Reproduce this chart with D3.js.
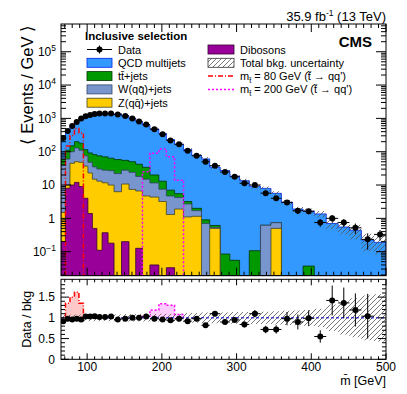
<!DOCTYPE html>
<html>
<head>
<meta charset="utf-8">
<script src="https://cdn.jsdelivr.net/npm/d3@7"></script>
<style>
  body { margin: 0; background: #fff; }
  svg { display: block; font-family: "Liberation Sans", Arial, Helvetica, sans-serif; }
</style>
</head>
<body>
<svg id="chart" width="407" height="394"></svg>
<script>
// bin edges of the mbar histogram (GeV)
const binEdges = [65, 71, 77, 83, 89, 95, 101, 107, 113, 120, 128, 136, 146, 156, 165, 174, 184, 196, 206, 217,
  229, 240, 253, 264, 278, 291, 304, 317, 332, 346, 360, 375, 389, 404, 420, 436, 451, 467, 484, 500];

// backgrounds, events / GeV per bin
const qcd = [219, 313, 465, 596, 860, 1002, 1131, 1216, 1298, 1312, 1295, 1307, 1149, 950, 768, 602, 460, 337, 225, 163,
  113, 76, 60, 34, 27, 18.5, 13.5, 9.0, 7.3, 4.9, 3.06, 1.9, 1.61, 1.36, 0.70, 0.55, 0.44, 0.225, 0.19];
const ttbar = [20, 50, 50, 70, 70, 40, 44, 47, 45, 42, 37, 36, 27, 26, 24, 19, 8.5, 5.5, 2.3, 1.3,
  0.5, 0.3, 0.2, 0.08, 0.085, 0.055, 0, 0.107, 0, 0, 0, 0, 0.037, 0, 0, 0, 0, 0, 0];
const wjets = [38, 50, 55, 80, 62, 38, 25, 20, 17, 16.3, 17, 15.7, 17.3, 16.6, 11.4, 10.3, 7.2, 4.3, 3.4, 2.3,
  1.6, 0.55, 0.7, 0.03, 0, 0, 0, 0, 0.62, 0.24, 0, 0, 0, 0, 0, 0, 0, 0, 0];
const zjets = [1.3, 2, 35, 38, 39, 33, 21.6, 14.5, 12.9, 11.3, 9.8, 6.3, 10.5, 7.4, 6.5, 4.7, 4.3, 3.2, 1.27, 1.9,
  1.1, 1.15, 0, 0.5, 0, 0, 0, 0, 0, 0.5, 0, 0, 0, 0, 0, 0, 0, 0, 0];
const dibosons = [0.2, 8, 10, 12, 9, 4, 1.4, 0.5, 0.11, 0.37, 0.18, 0, 0.2, 0, 0.126, 0, 0.04, 0, 0.033, 0,
  0, 0, 0, 0, 0, 0, 0, 0, 0, 0, 0, 0, 0, 0, 0, 0, 0, 0, 0];
// relative total background uncertainty
const bkgUnc = [0.08, 0.08, 0.08, 0.08, 0.08, 0.08, 0.08, 0.08, 0.08, 0.08, 0.08, 0.08, 0.09, 0.09, 0.09, 0.09, 0.09, 0.1, 0.1, 0.1,
  0.12, 0.12, 0.13, 0.13, 0.13, 0.14, 0.14, 0.15, 0.15, 0.16, 0.17, 0.18, 0.19, 0.22, 0.32, 0.4, 0.47, 0.54, 0.57];

// data, events / GeV
const data = [257, 415, 590, 780, 1000, 1150, 1260, 1350, 1400, 1410, 1400, 1310, 1180, 1000, 810, 655, 470, 335, 218, 166,
  107, 76, 50, 38, 24.5, 17.7, 11.3, 10, 5.7, 4.0, 3.0, 1.70, 1.63, 0.75, 1.0, 0.75, 0.52, 0.234, 0.33];
const dataErr = [8, 10, 12, 16, 15, 17, 19, 20, 21, 21, 21, 20, 18, 15, 12, 13, 9.4, 6.7, 5.5, 4.2,
  3.2, 2.7, 2.5, 1.7, 1.35, 1.1, 0.94, 0.82, 0.71, 0.56, 0.49, 0.34, 0.31, 0.2, 0.25, 0.2, 0.18, 0.12, 0.115];
// data / bkg as shown in the lower panel
const ratio = [0.92, 0.98, 0.96, 0.98, 0.96, 1.03, 1.03, 1.04, 1.02, 1.02, 1.03, 0.96, 0.98, 1.0, 1.0, 1.03, 0.98, 0.96, 0.94, 0.98,
  0.92, 0.98, 0.82, 1.10, 0.90, 0.95, 0.84, 1.10, 0.72, 0.72, 0.98, 0.90, 0.99, 0.55, 1.42, 1.36, 1.19, 1.04, null];
const ratioErr = [0.01, 0.01, 0.01, 0.01, 0.01, 0.01, 0.01, 0.01, 0.01, 0.01, 0.01, 0.015, 0.015, 0.015, 0.015, 0.02, 0.02, 0.02, 0.025, 0.025,
  0.03, 0.035, 0.04, 0.05, 0.05, 0.06, 0.07, 0.09, 0.09, 0.1, 0.16, 0.18, 0.19, 0.15, 0.36, 0.37, 0.4, 0.54, null];

// signals, events / GeV
const sig80 = [0, 148, 307, 494, 364, 0, 0, 0, 0, 0, 0, 0, 0, 0, 0, 0, 0, 0, 0, 0,
  0, 0, 0, 0, 0, 0, 0, 0, 0, 0, 0, 0, 0, 0, 0, 0, 0, 0, 0];
const sig200 = [0, 0, 0, 0, 0, 0, 0, 0, 0, 0, 0, 0, 0, 0, 0, 25, 90, 120, 70, 14,
  0, 0, 0, 0, 0, 0, 0, 0, 0, 0, 0, 0, 0, 0, 0, 0, 0, 0, 0];

const xTicks = [100, 200, 300, 400, 500];
const yTicksRatio = [0, 0.5, 1, 1.5];
const yDecades = [-1, 0, 1, 2, 3, 4, 5];

const svg = d3.select('#chart');
const L = 61, R = 386;
const upTop = 24, upBot = 275.7, loTop = 279.3, loBot = 359.3;

const x = d3.scaleLinear().domain([65, 500]).range([L, R]);
const y = d3.scaleLog().domain([0.019, 6.8e5]).range([upBot, upTop]).clamp(true);
const yr = d3.scaleLinear().domain([0, 1.93]).range([loBot, loTop]);
const floorV = 1e-6;

const bins = binEdges.slice(0, -1).map((e, i) => ({x0: e, x1: binEdges[i + 1], xc: (e + binEdges[i + 1]) / 2}));

const defs = svg.append('defs');
defs.append('clipPath').attr('id', 'clipUp').append('rect')
  .attr('x', L).attr('y', upTop).attr('width', R - L).attr('height', upBot - upTop);
defs.append('clipPath').attr('id', 'clipLo').append('rect')
  .attr('x', L).attr('y', loTop).attr('width', R - L).attr('height', loBot - loTop);
const hatch = defs.append('pattern').attr('id', 'hatch')
  .attr('patternUnits', 'userSpaceOnUse').attr('width', 5).attr('height', 5);
hatch.append('path').attr('d', 'M-1,1 L1,-1 M0,5 L5,0 M4,6 L6,4')
  .attr('stroke', '#555').attr('stroke-width', 0.8);

const keys = ['dibosons', 'zjets', 'wjets', 'ttbar', 'qcd'];
const fills = {qcd: '#3399ff', ttbar: '#009900', wjets: '#7896cd', zjets: '#ffcc00', dibosons: '#990099'};
const lines = {qcd: '#0022ee', ttbar: '#003300', wjets: '#334466', zjets: '#444422', dibosons: '#330033'};

const rows = bins.map((b, i) => ({dibosons: dibosons[i], zjets: zjets[i], wjets: wjets[i], ttbar: ttbar[i], qcd: qcd[i]}));
const layers = d3.stack().keys(keys)(rows);
const total = layers[layers.length - 1].map(d => d[1]);

function steps(vals) {
  return vals.flatMap((v, i) => [[bins[i].x0, v], [bins[i].x1, v]]);
}
function sigSteps(sig) {
  const idx = sig.map((v, i) => v > 0 ? i : -1).filter(i => i >= 0);
  const i0 = idx[0], i1 = idx[idx.length - 1];
  const pts = [[bins[i0].x0, null]];
  for (let i = i0; i <= i1; i++) { pts.push([bins[i].x0, sig[i], i]); pts.push([bins[i].x1, sig[i], i]); }
  pts.push([bins[i1].x1, null]);
  return pts;
}

const stepArea = d3.area().x(d => x(d[0])).y0(y(floorV)).y1(d => y(Math.max(d[1], floorV)));

// ---------------- upper pad ----------------
const up = svg.append('g').attr('clip-path', 'url(#clipUp)');

layers.slice().reverse().forEach(layer => {
  up.append('path')
    .attr('d', stepArea(steps(layer.map(d => d[1]))))
    .attr('fill', fills[layer.key])
    .attr('stroke', lines[layer.key])
    .attr('stroke-width', 0.8);
});

up.append('path')
  .attr('d', d3.area().x(d => x(d[0]))
    .y0(d => y(d[1] * (1 - d[2]))).y1(d => y(d[1] * (1 + d[2])))(
      bins.flatMap((b, i) => [[b.x0, total[i], bkgUnc[i]], [b.x1, total[i], bkgUnc[i]]])))
  .attr('fill', 'url(#hatch)');

const sigLine = d3.line().x(d => x(d[0])).y(d => y(d[1] == null ? floorV : Math.max(d[1], floorV)));
up.append('path').attr('d', sigLine(sigSteps(sig80)))
  .attr('fill', 'none').attr('stroke', '#ff0000').attr('stroke-width', 1.5).attr('stroke-dasharray', '5,2,1,2');
up.append('path').attr('d', sigLine(sigSteps(sig200)))
  .attr('fill', 'none').attr('stroke', '#ff00ff').attr('stroke-width', 1.5).attr('stroke-dasharray', '2,2');

const pts = bins.map((b, i) => ({...b, v: data[i], e: dataErr[i], r: ratio[i], re: ratioErr[i]}));
const dUp = up.append('g');
dUp.selectAll('line.h').data(pts).join('line').attr('class', 'h')
  .attr('x1', d => x(d.x0)).attr('x2', d => x(d.x1))
  .attr('y1', d => y(d.v)).attr('y2', d => y(d.v))
  .attr('stroke', '#000').attr('stroke-width', 1);
dUp.selectAll('line.v').data(pts).join('line').attr('class', 'v')
  .attr('x1', d => x(d.xc)).attr('x2', d => x(d.xc))
  .attr('y1', d => y(d.v - d.e)).attr('y2', d => y(d.v + d.e))
  .attr('stroke', '#000').attr('stroke-width', 1);
dUp.selectAll('circle').data(pts).join('circle')
  .attr('cx', d => x(d.xc)).attr('cy', d => y(d.v)).attr('r', 3).attr('fill', '#000');

// ---------------- ratio pad ----------------
const lo = svg.append('g').attr('clip-path', 'url(#clipLo)');

function sigRatio(sig) {
  return sigSteps(sig).map(p => [p[0], p[1] == null ? 1 : (total[p[2]] + p[1]) / total[p[2]]]);
}
const rArea = d3.area().x(d => x(d[0])).y0(yr(1)).y1(d => yr(d[1]));
const rLine = d3.line().x(d => x(d[0])).y(d => yr(d[1]));
lo.append('path').attr('d', rArea(sigRatio(sig80))).attr('fill', '#ffc8c8');
lo.append('path').attr('d', rLine(sigRatio(sig80)))
  .attr('fill', 'none').attr('stroke', '#ff0000').attr('stroke-width', 1.5).attr('stroke-dasharray', '5,2,1,2');
lo.append('path').attr('d', rArea(sigRatio(sig200))).attr('fill', '#ffccff');
lo.append('path').attr('d', rLine(sigRatio(sig200)))
  .attr('fill', 'none').attr('stroke', '#ff00ff').attr('stroke-width', 1.5).attr('stroke-dasharray', '2,2');

lo.append('path')
  .attr('d', d3.area().x(d => x(d[0])).y0(d => yr(1 - d[1])).y1(d => yr(1 + d[1]))(
    bins.flatMap((b, i) => [[b.x0, bkgUnc[i]], [b.x1, bkgUnc[i]]])))
  .attr('fill', 'url(#hatch)');

lo.append('line').attr('x1', L).attr('x2', R).attr('y1', yr(1)).attr('y2', yr(1))
  .attr('stroke', '#0000cc').attr('stroke-width', 1).attr('stroke-dasharray', '3,2');

const rPts = pts.filter(d => d.r != null);
const dLo = lo.append('g');
dLo.selectAll('line.h').data(rPts).join('line').attr('class', 'h')
  .attr('x1', d => x(d.x0)).attr('x2', d => x(d.x1))
  .attr('y1', d => yr(d.r)).attr('y2', d => yr(d.r))
  .attr('stroke', '#000');
dLo.selectAll('line.v').data(rPts).join('line').attr('class', 'v')
  .attr('x1', d => x(d.xc)).attr('x2', d => x(d.xc))
  .attr('y1', d => yr(d.r - d.re)).attr('y2', d => yr(d.r + d.re))
  .attr('stroke', '#000');
dLo.selectAll('circle').data(rPts).join('circle')
  .attr('cx', d => x(d.xc)).attr('cy', d => yr(d.r)).attr('r', 3).attr('fill', '#000');

// ---------------- frames and ticks ----------------
const ax = svg.append('g').attr('stroke', '#000').attr('stroke-width', 1);
ax.append('rect').attr('x', L).attr('y', upTop).attr('width', R - L).attr('height', upBot - upTop).attr('fill', 'none');
ax.append('rect').attr('x', L).attr('y', loTop).attr('width', R - L).attr('height', loBot - loTop).attr('fill', 'none');

function xTickMarks(top, bot, big, small) {
  d3.range(70, 501, 10).forEach(v => {
    const len = xTicks.includes(v) ? big : small;
    const px = x(v);
    ax.append('line').attr('x1', px).attr('x2', px).attr('y1', bot).attr('y2', bot - len);
    ax.append('line').attr('x1', px).attr('x2', px).attr('y1', top).attr('y2', top + len);
  });
}
xTickMarks(upTop, upBot, 8, 4);
xTickMarks(loTop, loBot, 6, 3);

function yTickMark(py, len) {
  ax.append('line').attr('x1', L).attr('x2', L + len).attr('y1', py).attr('y2', py);
  ax.append('line').attr('x1', R).attr('x2', R - len).attr('y1', py).attr('y2', py);
}
d3.range(-2, 6).forEach(k => {
  for (let m = 1; m <= 9; m++) {
    const v = m * Math.pow(10, k);
    if (v < y.domain()[0] || v > y.domain()[1]) continue;
    yTickMark(y(v), m === 1 ? 10 : 5);
  }
});
d3.range(0, 19).forEach(k => yTickMark(yr(k / 10), k % 5 === 0 ? 8 : 4));

// tick labels
const lab = svg.append('g').attr('font-size', 12).attr('fill', '#000');
lab.selectAll('text.xl').data(xTicks).join('text').attr('class', 'xl')
  .attr('x', d => x(d)).attr('y', 371).attr('text-anchor', 'middle').text(d => d);
lab.selectAll('text.rl').data(yTicksRatio).join('text').attr('class', 'rl')
  .attr('x', 55).attr('y', d => yr(d) + 4.3).attr('text-anchor', 'end').text(d => d);
yDecades.forEach(k => {
  const t = lab.append('text').attr('y', y(Math.pow(10, k)) + 4.3).attr('text-anchor', 'end');
  if (k === 0) { t.attr('x', 55).text('1'); return; }
  if (k === 1) { t.attr('x', 55).text('10'); return; }
  t.attr('x', 56);
  t.append('tspan').text('10');
  t.append('tspan').attr('font-size', 8.5).attr('dy', -5).text(k < 0 ? '\u2212' + (-k) : k);
});

// axis titles
svg.append('text').attr('transform', `translate(33,${upTop + 1}) rotate(-90)`)
  .attr('text-anchor', 'end').attr('font-size', 16.5).text('\u27e8 Events / GeV \u27e9');
svg.append('text').attr('transform', `translate(31,${(loTop + loBot) / 2}) rotate(-90)`)
  .attr('text-anchor', 'middle').attr('font-size', 12.5).text('Data / bkg');
svg.append('text').attr('x', R).attr('y', 385).attr('text-anchor', 'end').attr('font-size', 12.5)
  .text('m\u0304 [GeV]');

// header
const hdr = svg.append('text').attr('x', R).attr('y', 20.5).attr('text-anchor', 'end').attr('font-size', 13);
hdr.append('tspan').text('35.9 fb');
hdr.append('tspan').attr('font-size', 8.5).attr('dy', -5).text('-1');
hdr.append('tspan').attr('dy', 5).text(' (13 TeV)');
svg.append('text').attr('x', 372).attr('y', 47).attr('text-anchor', 'end')
  .attr('font-size', 15).attr('font-weight', 'bold').text('CMS');
svg.append('text').attr('x', 85).attr('y', 39.5).attr('font-size', 11.5).attr('font-weight', 'bold')
  .text('Inclusive selection');

// ---------------- legend ----------------
const leg = svg.append('g').attr('font-size', 11);
const col1 = [
  {label: 'Data', type: 'data'},
  {label: 'QCD multijets', key: 'qcd'},
  {label: 'tt\u0304+jets', key: 'ttbar'},
  {label: 'W(qq\u0304)+jets', key: 'wjets'},
  {label: 'Z(qq\u0304)+jets', key: 'zjets'}
];
const rowY = [49.5, 62.8, 76.1, 89.4, 102.7];
col1.forEach((e, i) => {
  const cy = rowY[i];
  if (e.type === 'data') {
    leg.append('line').attr('x1', 87).attr('x2', 112).attr('y1', cy).attr('y2', cy).attr('stroke', '#000');
    leg.append('line').attr('x1', 99.5).attr('x2', 99.5).attr('y1', cy - 4).attr('y2', cy + 4).attr('stroke', '#000');
    leg.append('circle').attr('cx', 99.5).attr('cy', cy).attr('r', 3).attr('fill', '#000');
  } else {
    leg.append('rect').attr('x', 87).attr('y', cy - 4.5).attr('width', 25).attr('height', 9)
      .attr('fill', fills[e.key]).attr('stroke', lines[e.key]).attr('stroke-width', 0.8);
  }
  leg.append('text').attr('x', 118).attr('y', cy + 4).text(e.label);
});

leg.append('rect').attr('x', 208).attr('y', rowY[0] - 4.5).attr('width', 26).attr('height', 9)
  .attr('fill', fills.dibosons).attr('stroke', lines.dibosons).attr('stroke-width', 0.8);
leg.append('text').attr('x', 240).attr('y', rowY[0] + 4).text('Dibosons');
leg.append('rect').attr('x', 208).attr('y', rowY[1] - 4.5).attr('width', 26).attr('height', 9)
  .attr('fill', 'url(#hatch)').attr('stroke', '#333').attr('stroke-width', 0.8);
leg.append('text').attr('x', 240).attr('y', rowY[1] + 4).text('Total bkg. uncertainty');
leg.append('line').attr('x1', 208).attr('x2', 234).attr('y1', rowY[2]).attr('y2', rowY[2])
  .attr('stroke', '#ff0000').attr('stroke-width', 1.5).attr('stroke-dasharray', '5,2,1,2');
leg.append('line').attr('x1', 208).attr('x2', 234).attr('y1', rowY[3]).attr('y2', rowY[3])
  .attr('stroke', '#ff00ff').attr('stroke-width', 1.5).attr('stroke-dasharray', '2,2');

function sigLabel(cy, mass) {
  const t = leg.append('text').attr('x', 240).attr('y', cy + 4);
  t.append('tspan').text('m');
  t.append('tspan').attr('font-size', 7.5).attr('dy', 3).text('t\u0303');
  t.append('tspan').attr('dy', -3).text(` = ${mass} GeV (t\u0303 \u2192 qq')`);
}
sigLabel(rowY[2], 80);
sigLabel(rowY[3], 200);
</script>
</body>
</html>
